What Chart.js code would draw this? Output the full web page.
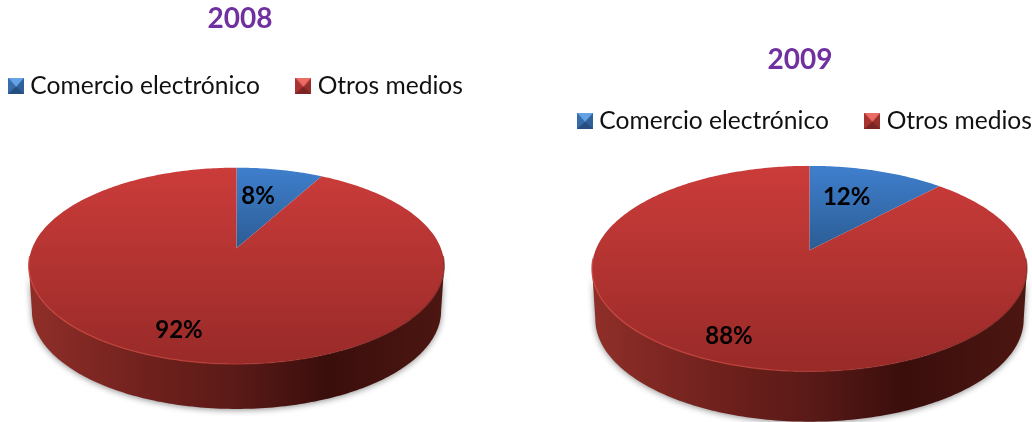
<!DOCTYPE html>
<html>
<head>
<meta charset="utf-8">
<style>
html,body{margin:0;padding:0;background:#fff;width:1032px;height:422px;overflow:hidden}
canvas{position:absolute;top:0}
</style>
<script src="https://cdn.jsdelivr.net/npm/chart.js@4"></script>
</head>
<body>
<canvas id="c2008" width="561" height="422" style="left:-45px"></canvas>
<canvas id="c2009" width="560" height="422" style="left:524px"></canvas>
<script>
const categories = ['Comercio electrónico', 'Otros medios'];
const values2008 = [8, 92];
const values2009 = [12, 88];
const title2008 = '2008';
const title2009 = '2009';

const FONT = 'Lato, Carlito, "Noto Sans", sans-serif';
const BASE = ['#3a75bc', '#b93634'];
const TOP_STOPS = [['#3f7fcd', '#2b5c94'], ['#cb3c3a', '#982a28']];
const WALL_STOPS = [
  [[0, '#2b5c94'], [0.65, '#10253f'], [1, '#16304f']],
  [[0, '#8f2e29'], [0.3, '#6e201c'], [0.5, '#5a1a17'], [0.72, '#3a0e0c'], [1, '#4c1611']]
];
const TILT = 0.465, PERSP = -0.178, FOOT = 0.985;

function project(el, t) {
  const R = el.outerRadius, u = Math.cos(t), v = Math.sin(t), w = 1 + PERSP * v;
  return { x: el.x + R * u / w, y: el.y + R * TILT * v / w };
}
function rimPath(ctx, el, a, b, first) {
  const n = Math.max(2, Math.ceil(Math.abs(b - a) * 60));
  for (let i = 0; i <= n; i++) {
    const p = project(el, a + (b - a) * i / n);
    if (i === 0 && first) ctx.moveTo(p.x, p.y); else ctx.lineTo(p.x, p.y);
  }
}
function drawFace(ctx) {
  const el = this.getProps(['x', 'y', 'startAngle', 'endAngle', 'outerRadius'], true);
  const top = project(el, -Math.PI / 2).y, bottom = project(el, Math.PI / 2).y;
  const g = ctx.createLinearGradient(0, top, 0, this.stopsEnd ? el.y : bottom);
  g.addColorStop(0, this.stops[0]);
  g.addColorStop(1, this.stops[1]);
  ctx.save();
  ctx.beginPath();
  ctx.moveTo(el.x, el.y);
  rimPath(ctx, el, el.startAngle, el.endAngle, false);
  ctx.closePath();
  ctx.fillStyle = g;
  ctx.fill();
  ctx.restore();
}
function drawWall(ctx, el, idx, depth) {
  const R = el.outerRadius, d = R * depth;
  const wide = Math.asin(-PERSP);
  const a = Math.max(el.startAngle, wide), b = Math.min(el.endAngle, Math.PI - wide);
  if (b <= a) return;
  const g = ctx.createLinearGradient(el.x - R, 0, el.x + R, 0);
  WALL_STOPS[idx].forEach(s => g.addColorStop(s[0], s[1]));
  const n = Math.ceil((b - a) * 60);
  ctx.save();
  ctx.beginPath();
  rimPath(ctx, el, a, b, true);
  for (let i = n; i >= 0; i--) {
    const p = project(el, a + (b - a) * i / n);
    ctx.lineTo(el.x + (p.x - el.x) * FOOT, p.y + d);
  }
  ctx.closePath();
  ctx.shadowColor = 'rgba(0,0,0,0.45)';
  ctx.shadowBlur = 6;
  ctx.shadowOffsetY = 1;
  ctx.fillStyle = g;
  ctx.fill();
  ctx.restore();
}
function drawRim(ctx, el) {
  const R = el.outerRadius;
  const wide = Math.asin(-PERSP);
  const g = ctx.createLinearGradient(el.x - R, 0, el.x + R, 0);
  g.addColorStop(0, 'rgba(200,70,62,0.9)');
  g.addColorStop(0.4, 'rgba(190,62,54,0.8)');
  g.addColorStop(0.7, 'rgba(150,42,38,0.4)');
  g.addColorStop(1, 'rgba(110,30,26,0.6)');
  ctx.save();
  ctx.beginPath();
  rimPath(ctx, el, wide - 0.1, Math.PI - wide + 0.1, true);
  ctx.strokeStyle = g;
  ctx.lineWidth = 1.4;
  ctx.stroke();
  ctx.restore();
}
function makeIcon(i) {
  const c = document.createElement('canvas');
  c.width = 16; c.height = 16;
  const x = c.getContext('2d');
  const shades = i === 0
    ? ['#66a3e6', '#386ca9', '#30609a', '#264f80']
    : ['#ee6c66', '#a83431', '#96302c', '#7a2523'];
  const tri = (col, pts) => {
    x.fillStyle = col; x.beginPath();
    pts.forEach((p, k) => k ? x.lineTo(p[0], p[1]) : x.moveTo(p[0], p[1]));
    x.closePath(); x.fill();
  };
  x.fillStyle = shades[2]; x.fillRect(0, 0, 16, 16);
  tri(shades[1], [[0, 0], [8, 9], [0, 16]]);
  tri(shades[2], [[16, 0], [8, 9], [16, 16]]);
  tri(shades[3], [[0, 16], [8, 9], [16, 16]]);
  tri(shades[0], [[0, 0], [16, 0], [8, 9]]);
  return c;
}
const pie3d = {
  id: 'pie3d',
  afterLayout(chart, args, o) {
    chart.titleBlock.left += o.titleDx;
    chart.titleBlock.right += o.titleDx;
    chart.legend.left += o.legendDx;
    chart.legend.right += o.legendDx;
    chart.legend.top = o.legendTop;
  },
  beforeDatasetsDraw(chart, args, o) {
    const meta = chart.getDatasetMeta(0);
    meta.data.forEach((arc, i) => {
      arc.stops = TOP_STOPS[i];
      arc.stopsEnd = i === 0;
      arc.draw = drawFace;
      drawWall(chart.ctx, arc.getProps(['x', 'y', 'startAngle', 'endAngle', 'outerRadius'], true), i, o.depth);
    });
  },
  afterDatasetsDraw(chart, args, o) {
    const ctx = chart.ctx, meta = chart.getDatasetMeta(0), ds = chart.data.datasets[0];
    drawRim(ctx, meta.data[0].getProps(['x', 'y', 'outerRadius'], true));
    ctx.save();
    ctx.font = 'bold 24px ' + FONT;
    ctx.fillStyle = '#000';
    ctx.textAlign = 'center';
    ctx.textBaseline = 'middle';
    meta.data.forEach((arc, i) => {
      ctx.fillText(ds.data[i] + '%', arc.x + o.labelOffsets[i][0], arc.y + o.labelOffsets[i][1]);
    });
    ctx.restore();
  }
};
function makeChart(id, titleText, values, radius, lay) {
  return new Chart(document.getElementById(id), {
    type: 'pie',
    data: {
      labels: categories,
      datasets: [{ data: values, backgroundColor: BASE, borderWidth: 0, radius: radius }]
    },
    plugins: [pie3d],
    options: {
      responsive: false,
      animation: false,
      layout: { padding: lay.padding },
      events: [],
      plugins: {
        pie3d: lay,
        tooltip: { enabled: false },
        title: {
          display: true,
          text: titleText,
          color: '#7030a0',
          font: { family: FONT, size: 28, weight: 'bold' },
          padding: lay.titlePadding
        },
        legend: {
          display: true,
          position: 'top',
          labels: {
            usePointStyle: true,
            pointStyleWidth: 4,
            padding: 41.5,
            color: '#111',
            font: { family: FONT, size: 24.6 },
            generateLabels: c => categories.map((t, i) => ({
              text: t, pointStyle: makeIcon(i), fillStyle: BASE[i], strokeStyle: BASE[i],
              lineWidth: 0, hidden: false, index: i, fontColor: '#111'
            }))
          }
        }
      }
    }
  });
}
makeChart('c2008', title2008, values2008, 204.4, {
  titleDx: 3.5, legendDx: 2, legendTop: 32, depth: 0.22,
  titlePadding: { top: 2, bottom: 0 },
  padding: { left: 2, right: 0, top: 0, bottom: 37 },
  labelOffsets: [[21.5, -52.5], [-57.5, 82]]
});
makeChart('c2009', title2009, values2009, 214, {
  titleDx: -9.5, legendDx: -2, legendTop: 67, depth: 0.235,
  titlePadding: { top: 43, bottom: 0 },
  padding: { left: 11, right: 0, top: 0, bottom: 74 },
  labelOffsets: [[37.2, -53], [-80.5, 85.5]]
});
</script>
</body>
</html>
